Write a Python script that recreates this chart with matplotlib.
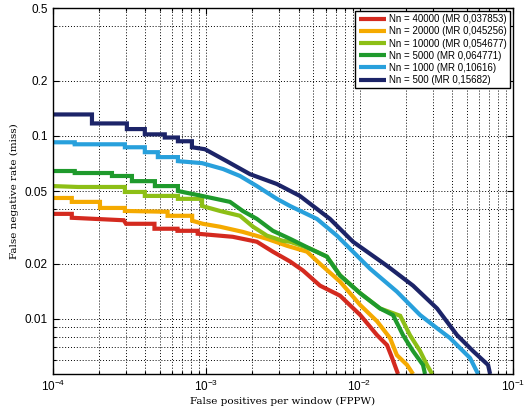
import matplotlib
matplotlib.use('Agg')
import matplotlib.pyplot as plt
from matplotlib.ticker import FixedLocator, NullFormatter, LogLocator

plt.rcParams['font.family'] = ['Liberation Sans', 'DejaVu Sans']
plt.rcParams['mathtext.default'] = 'regular'

# courbes DET (FPPW / taux de miss)
x_40000 = [1e-4, 1.33e-4, 1.33e-4, 2.9e-4, 3.0e-4, 4.6e-4, 4.6e-4, 6.5e-4, 6.5e-4, 8.8e-4, 8.8e-4,
           1.49e-3, 2.14e-3, 2.72e-3, 3.52e-3, 4.27e-3, 5.52e-3, 7.45e-3, 1.01e-2, 1.30e-2, 1.51e-2,
           1.63e-2, 1.78e-2]
y_40000 = [0.0375, 0.0375, 0.0357, 0.0346, 0.0331, 0.0331, 0.0311, 0.0311, 0.0303, 0.0303, 0.0292,
           0.0281, 0.0264, 0.0233, 0.0206, 0.0184, 0.0152, 0.0134, 0.0105, 0.00815, 0.00719,
           0.00611, 0.005]

x_20000 = [1e-4, 1.33e-4, 1.33e-4, 2.03e-4, 2.03e-4, 2.95e-4, 2.95e-4, 5.6e-4, 5.6e-4, 8.1e-4, 8.1e-4,
           9.5e-4, 1.23e-3, 1.73e-3, 2.49e-3, 3.36e-3, 4.54e-3, 5.52e-3, 7.45e-3, 1.01e-2, 1.30e-2,
           1.58e-2, 1.75e-2, 2.04e-2, 2.23e-2]
y_20000 = [0.0458, 0.0458, 0.0436, 0.0436, 0.0404, 0.0404, 0.0389, 0.0385, 0.0366, 0.0366, 0.0344,
           0.0331, 0.0319, 0.0299, 0.0274, 0.0251, 0.0233, 0.0200, 0.0160, 0.0119, 0.0097,
           0.00785, 0.00634, 0.0056, 0.005]

x_10000 = [1e-4, 1.46e-4, 2.95e-4, 2.95e-4, 3.98e-4, 3.98e-4, 6.54e-4, 6.54e-4, 9.4e-4, 9.4e-4,
           1.23e-3, 1.66e-3, 2.02e-3, 2.49e-3, 3.16e-3, 3.52e-3, 4.75e-3, 6.12e-3, 7.45e-3, 1.01e-2,
           1.36e-2, 1.84e-2, 2.13e-2, 2.48e-2, 2.75e-2, 2.97e-2]
y_10000 = [0.0532, 0.0526, 0.0526, 0.0494, 0.0494, 0.0470, 0.0470, 0.0453, 0.0453, 0.0414,
           0.0389, 0.0366, 0.0319, 0.0285, 0.0267, 0.0264, 0.0242, 0.0219, 0.0173, 0.0138,
           0.0114, 0.0104, 0.00815, 0.00667, 0.0056, 0.005]

x_5000 = [1e-4, 1.39e-4, 1.39e-4, 2.43e-4, 2.43e-4, 3.28e-4, 3.28e-4, 4.63e-4, 4.63e-4, 6.54e-4, 6.54e-4,
          9.4e-4, 1.43e-3, 1.73e-3, 2.14e-3, 2.72e-3, 3.52e-3, 4.75e-3, 6.12e-3, 7.45e-3, 1.01e-2,
          1.36e-2, 1.65e-2, 1.92e-2, 2.23e-2, 2.59e-2, 2.67e-2]
y_5000 = [0.0643, 0.0643, 0.0627, 0.0627, 0.0604, 0.0604, 0.0566, 0.0566, 0.0532, 0.0532, 0.0500,
          0.0470, 0.0436, 0.0389, 0.0352, 0.0303, 0.0274, 0.0242, 0.0219, 0.0173, 0.0138,
          0.0114, 0.0105, 0.00815, 0.00667, 0.0056, 0.005]

x_1000 = [1e-4, 1.39e-4, 1.39e-4, 2.95e-4, 2.95e-4, 3.98e-4, 3.98e-4, 4.84e-4, 4.84e-4, 6.54e-4, 6.54e-4,
          9.4e-4, 1.29e-3, 1.66e-3, 2.14e-3, 2.89e-3, 3.52e-3, 5.27e-3, 7.12e-3, 1.17e-2, 1.75e-2,
          2.48e-2, 3.20e-2, 3.89e-2, 5.25e-2, 5.92e-2]
y_1000 = [0.0923, 0.0923, 0.0900, 0.0900, 0.0867, 0.0867, 0.0815, 0.0815, 0.0766, 0.0766, 0.0728,
          0.0710, 0.0659, 0.0604, 0.0532, 0.0453, 0.0414, 0.0352, 0.0285, 0.0188, 0.0141,
          0.0105, 0.00889, 0.00785, 0.00611, 0.005]

x_500 = [1e-4, 1.80e-4, 1.80e-4, 3.04e-4, 3.04e-4, 3.98e-4, 3.98e-4, 5.37e-4, 5.37e-4, 6.54e-4, 6.54e-4,
         8.07e-4, 8.07e-4, 9.81e-4, 1.36e-3, 1.93e-3, 2.89e-3, 4.08e-3, 5.27e-3, 6.41e-3, 9.06e-3,
         1.51e-2, 2.23e-2, 3.20e-2, 4.32e-2, 5.49e-2, 6.88e-2, 7.09e-2]
y_500 = [0.131, 0.131, 0.117, 0.117, 0.109, 0.109, 0.102, 0.102, 0.098, 0.098, 0.0935,
         0.0935, 0.0867, 0.0846, 0.0728, 0.0618, 0.0546, 0.047, 0.0399, 0.0352, 0.0264,
         0.0195, 0.0152, 0.0114, 0.00815, 0.00667, 0.0056, 0.005]

labels = ['Nn = 40000 (MR 0,037853)', 'Nn = 20000 (MR 0,045256)', 'Nn = 10000 (MR 0,054677)',
          'Nn = 5000 (MR 0,064771)', 'Nn = 1000 (MR 0,10616)', 'Nn = 500 (MR 0,15682)']
colors = ['#d42a1f', '#f5aa00', '#8dbf16', '#1f9a2c', '#28a0dc', '#1c2468']
xs = [x_40000, x_20000, x_10000, x_5000, x_1000, x_500]
ys = [y_40000, y_20000, y_10000, y_5000, y_1000, y_500]

yticks = [0.01, 0.02, 0.05, 0.1, 0.2, 0.5]
ytick_labels = ['0.01', '0.02', '0.05', '0.1', '0.2', '0.5']
ygrid_minor = [0.006, 0.007, 0.008, 0.009, 0.04, 0.4]

fig = plt.figure(figsize=(5.28, 4.15), dpi=100)
ax = fig.add_axes([0.100, 0.0988, 0.8716, 0.8819])

for x, y, c, lab in zip(xs, ys, colors, labels):
    ax.plot(x, y, color=c, lw=3.0, label=lab, solid_joinstyle='miter', solid_capstyle='butt')

ax.set_xscale('log')
ax.set_yscale('log')
ax.set_xlim(1e-4, 1e-1)
ax.set_ylim(0.005, 0.5)

ax.set_yticks(yticks)
ax.set_yticklabels(ytick_labels)
ax.yaxis.set_minor_locator(FixedLocator(ygrid_minor))
ax.yaxis.set_minor_formatter(NullFormatter())
ax.set_xticks([1e-4, 1e-3, 1e-2, 1e-1])
ax.set_xticklabels([r'$10^{-4}$', r'$10^{-3}$', r'$10^{-2}$', r'$10^{-1}$'])
ax.xaxis.set_minor_locator(LogLocator(base=10, subs=range(2, 10)))
ax.xaxis.set_minor_formatter(NullFormatter())

ax.grid(True, which='both', linestyle=(0, (1, 2)), color='k', lw=0.7)
ax.tick_params(which='both', direction='in', top=True, right=True, labelsize=8.5, width=0.8)
ax.tick_params(which='major', length=4)
ax.tick_params(which='minor', length=2.5)
for s in ax.spines.values():
    s.set_linewidth(1.0)

ax.set_xlabel('False positives per window (FPPW)', family='DejaVu Serif', fontsize=7.5, labelpad=2)
ax.set_ylabel('False negative rate (miss)', family='DejaVu Serif', fontsize=7.5, labelpad=4)

leg = ax.legend(loc='upper right', fontsize=7, fancybox=False, edgecolor='k', framealpha=1,
                handlelength=2.8, handletextpad=0.3, labelspacing=0.22, borderaxespad=0.3,
                borderpad=0.35)
leg.get_frame().set_linewidth(1.0)

plt.savefig('out.png', dpi=100)
